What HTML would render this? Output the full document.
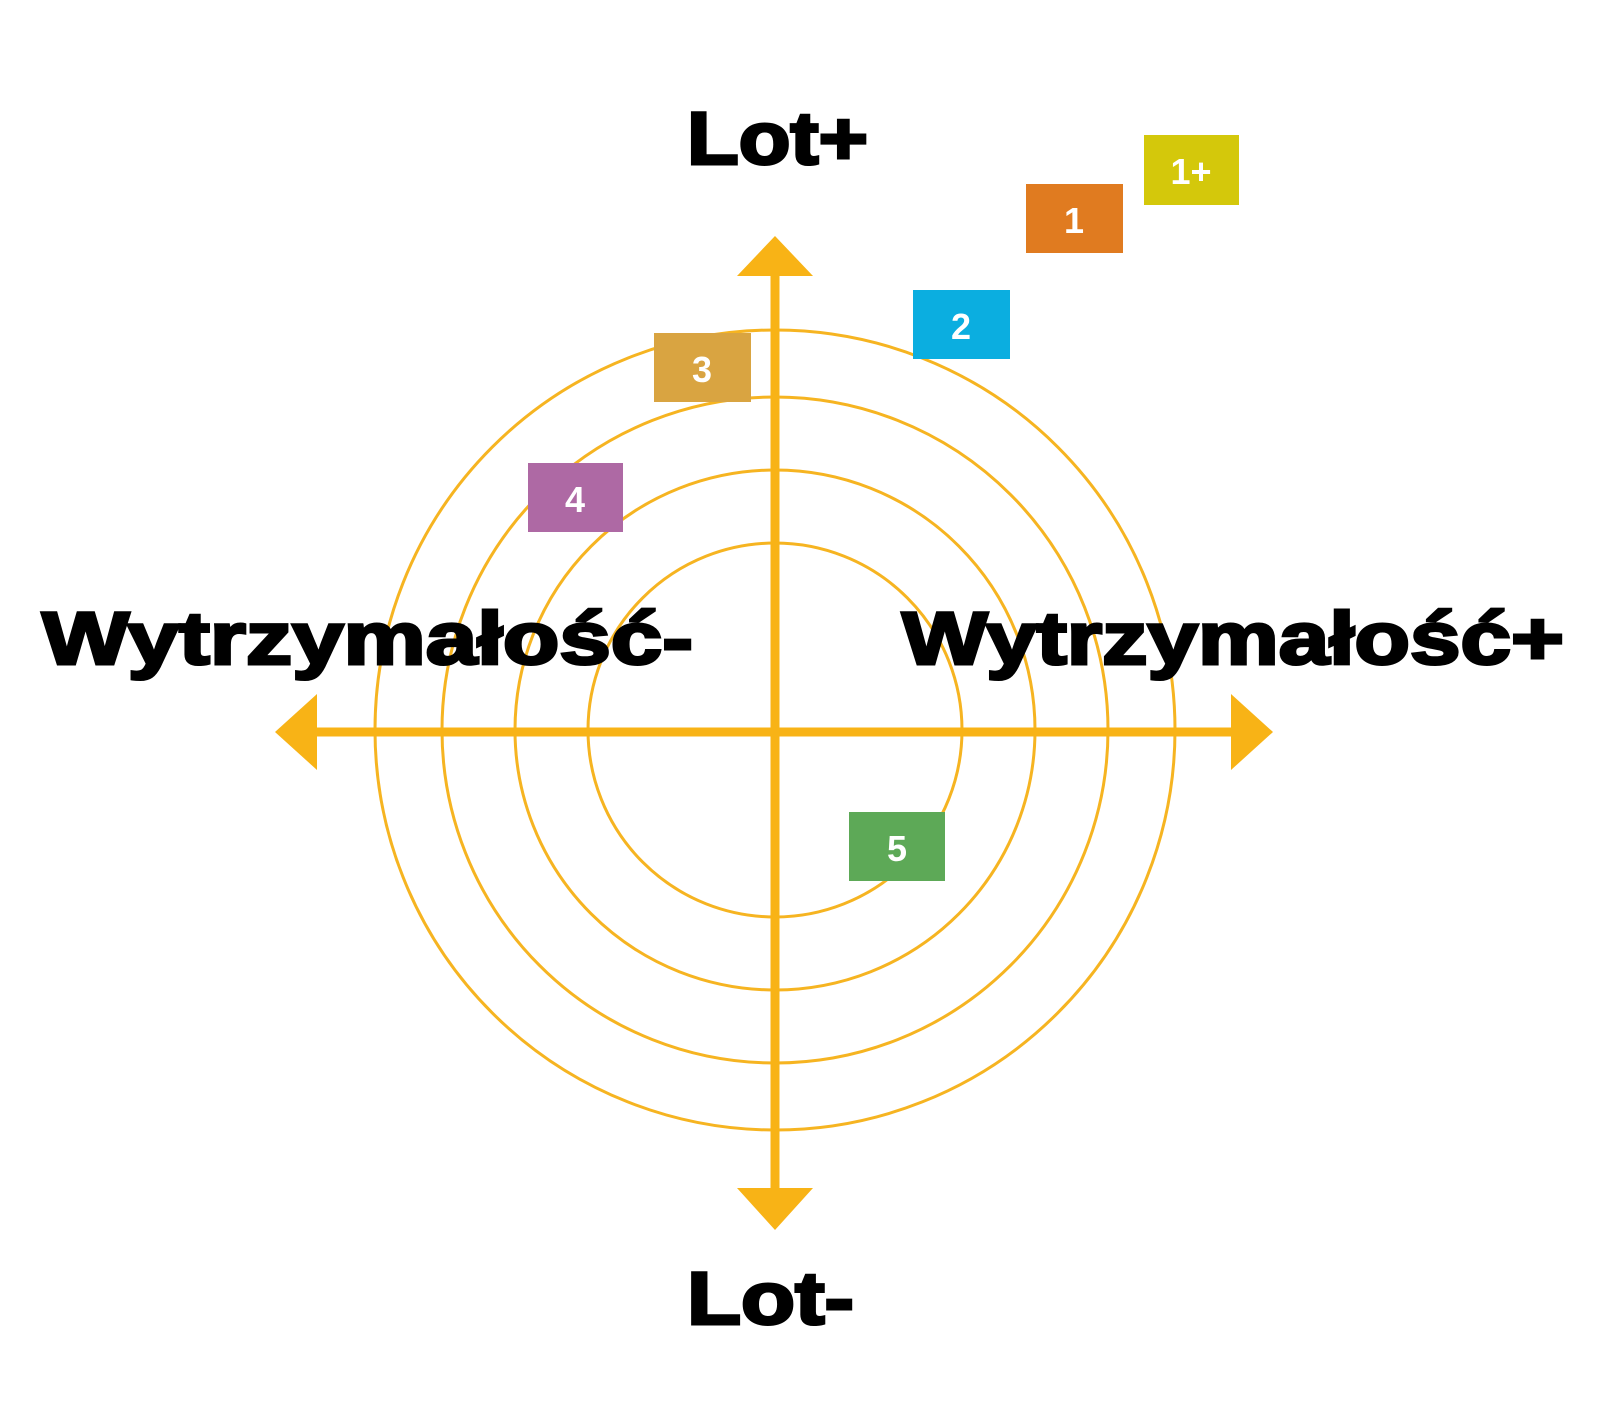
<!DOCTYPE html>
<html><head><meta charset="utf-8"><style>
html,body{margin:0;padding:0;background:#fff;}
svg{display:block;}
text{font-family:"Liberation Sans",sans-serif;font-weight:bold;}
</style></head><body>
<svg width="1600" height="1421" viewBox="0 0 1600 1421" xmlns="http://www.w3.org/2000/svg">
<rect width="1600" height="1421" fill="#fff"/>
<g transform="translate(-5,-2)">
<g fill="none" stroke="#F6B421" stroke-width="3">
<circle cx="780" cy="732" r="400"/>
<circle cx="780" cy="732" r="333"/>
<circle cx="780" cy="732" r="260"/>
<circle cx="780" cy="732" r="187"/>
</g>
<g stroke="#F8B316" stroke-width="9">
<line x1="780" y1="270" x2="780" y2="1195"/>
<line x1="316" y1="734" x2="1240" y2="734"/>
</g>
<g fill="#F8B316">
<polygon points="780,238 742,278 818,278"/>
<polygon points="780,1232 742,1190 818,1190"/>
<polygon points="280,734 322,696 322,772"/>
<polygon points="1278,734 1236,696 1236,772"/>
</g>
<g font-size="36" fill="#fff" text-anchor="middle">
<rect x="1149" y="137" width="95" height="70" fill="#D4C80B"/><text x="1196" y="186">1+</text>
<rect x="1031" y="186" width="97" height="69" fill="#E07B20"/><text x="1079" y="235">1</text>
<rect x="918" y="292" width="97" height="69" fill="#0BAEE0"/><text x="966" y="341">2</text>
<rect x="659" y="335" width="97" height="69" fill="#D9A441"/><text x="707" y="384">3</text>
<rect x="533" y="465" width="95" height="69" fill="#AE69A4"/><text x="580" y="514">4</text>
<rect x="854" y="814" width="96" height="69" fill="#5DA957"/><text x="902" y="863">5</text>
</g>
</g>
<g fill="#000" font-size="74" stroke="#000" stroke-width="3">
<text x="687" y="164" textLength="181" lengthAdjust="spacingAndGlyphs">Lot+</text>
<text x="687" y="1324" textLength="167" lengthAdjust="spacingAndGlyphs">Lot-</text>
<text x="42" y="664" textLength="651" lengthAdjust="spacingAndGlyphs">Wytrzymałość-</text>
<text x="902" y="664" textLength="662" lengthAdjust="spacingAndGlyphs">Wytrzymałość+</text>
</g>
</svg>
</body></html>
